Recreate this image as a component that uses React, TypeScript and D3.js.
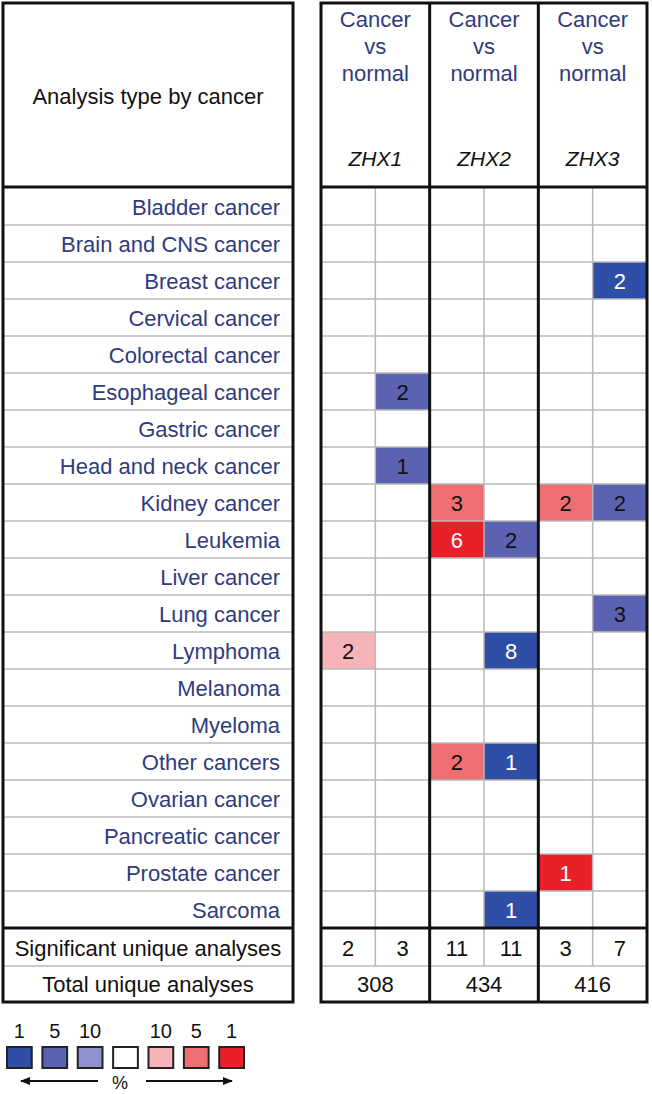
import React from "react";
import * as d3 from "d3";

const cancers = [
  "Bladder cancer",
  "Brain and CNS cancer",
  "Breast cancer",
  "Cervical cancer",
  "Colorectal cancer",
  "Esophageal cancer",
  "Gastric cancer",
  "Head and neck cancer",
  "Kidney cancer",
  "Leukemia",
  "Liver cancer",
  "Lung cancer",
  "Lymphoma",
  "Melanoma",
  "Myeloma",
  "Other cancers",
  "Ovarian cancer",
  "Pancreatic cancer",
  "Prostate cancer",
  "Sarcoma",
];
const genes = ["ZHX1", "ZHX2", "ZHX3"];
const directions = ["up", "down"];

type Cell = { cancer: string; gene: string; dir: string; count: number; level: number };
const cells: Cell[] = [
  { cancer: "Breast cancer", gene: "ZHX3", dir: "down", count: 2, level: 1 },
  { cancer: "Esophageal cancer", gene: "ZHX1", dir: "down", count: 2, level: 5 },
  { cancer: "Head and neck cancer", gene: "ZHX1", dir: "down", count: 1, level: 5 },
  { cancer: "Kidney cancer", gene: "ZHX2", dir: "up", count: 3, level: 5 },
  { cancer: "Kidney cancer", gene: "ZHX3", dir: "up", count: 2, level: 5 },
  { cancer: "Kidney cancer", gene: "ZHX3", dir: "down", count: 2, level: 5 },
  { cancer: "Leukemia", gene: "ZHX2", dir: "up", count: 6, level: 1 },
  { cancer: "Leukemia", gene: "ZHX2", dir: "down", count: 2, level: 5 },
  { cancer: "Lung cancer", gene: "ZHX3", dir: "down", count: 3, level: 5 },
  { cancer: "Lymphoma", gene: "ZHX1", dir: "up", count: 2, level: 10 },
  { cancer: "Lymphoma", gene: "ZHX2", dir: "down", count: 8, level: 1 },
  { cancer: "Other cancers", gene: "ZHX2", dir: "up", count: 2, level: 5 },
  { cancer: "Other cancers", gene: "ZHX2", dir: "down", count: 1, level: 1 },
  { cancer: "Prostate cancer", gene: "ZHX3", dir: "up", count: 1, level: 1 },
  { cancer: "Sarcoma", gene: "ZHX2", dir: "down", count: 1, level: 1 },
];

const significant = [2, 3, 11, 11, 3, 7];
const totals = [308, 434, 416];

const legendLevels = [
  { dir: "down", level: 1 },
  { dir: "down", level: 5 },
  { dir: "down", level: 10 },
  { dir: "none", level: 0 },
  { dir: "up", level: 10 },
  { dir: "up", level: 5 },
  { dir: "up", level: 1 },
];

const colorFor = (dir: string, level: number) => {
  if (dir === "down") return level === 1 ? "#2f4ea5" : level === 5 ? "#5b62b1" : "#8d92cf";
  if (dir === "up") return level === 1 ? "#e8202a" : level === 5 ? "#ef6e71" : "#f6b3b8";
  return "#ffffff";
};

const FONT = "'Liberation Sans', Arial, Helvetica, sans-serif";
const NAVY = "#2f3b7c";
const GRAY = "#b9b9b9";
const FS = 22;

export default function App() {
  const W = 652, H = 1094;
  const leftX0 = 3, leftX1 = 293;
  const gridX0 = 321, gridX1 = 647;
  const top = 3, headerBottom = 187;
  const rowsTop = 188, rowsBottom = 928;
  const sigBottom = 966, totalBottom = 1002;

  const y = d3.scaleBand<string>().domain(cancers).range([rowsTop, rowsBottom]);
  const gx = d3.scaleBand<string>().domain(genes).range([gridX0, gridX1]);
  const subKeys = genes.flatMap((g) => directions.map((d) => g + "|" + d));
  const sx = d3.scaleBand<string>().domain(subKeys).range([gridX0, gridX1]);
  const rh = y.bandwidth();
  const sw = sx.bandwidth();

  const legendX = d3.scaleBand<number>().domain(d3.range(legendLevels.length)).range([7, 244]).paddingInner(0.3);

  return (
    <svg width={W} height={H} style={{ position: "absolute", left: 0, top: 0, background: "#fff" }} fontFamily={FONT}>
      {/* colored cells */}
      {cells.map((c, i) => (
        <rect key={"c" + i} x={sx(c.gene + "|" + c.dir)} y={y(c.cancer)} width={sw} height={rh} fill={colorFor(c.dir, c.level)} />
      ))}

      {/* gray row lines left */}
      {cancers.slice(1).map((c) => (
        <line key={"lg" + c} x1={leftX0} x2={leftX1} y1={y(c)} y2={y(c)} stroke={GRAY} strokeWidth={1.5} />
      ))}
      <line x1={leftX0} x2={leftX1} y1={sigBottom} y2={sigBottom} stroke={GRAY} strokeWidth={1.5} />
      {/* gray row lines right */}
      {cancers.slice(1).map((c) => (
        <line key={"rg" + c} x1={gridX0} x2={gridX1} y1={y(c)} y2={y(c)} stroke={GRAY} strokeWidth={1.5} />
      ))}
      <line x1={gridX0} x2={gridX1} y1={sigBottom} y2={sigBottom} stroke={GRAY} strokeWidth={1.5} />
      {/* sub-column dividers */}
      {genes.map((g) => (
        <line key={"sv" + g} x1={sx(g + "|down")} x2={sx(g + "|down")} y1={rowsTop} y2={sigBottom} stroke={GRAY} strokeWidth={1.5} />
      ))}

      {/* thick borders */}
      <rect x={leftX0} y={top} width={leftX1 - leftX0} height={totalBottom - top} fill="none" stroke="#111" strokeWidth={3} />
      <line x1={leftX0} x2={leftX1} y1={headerBottom} y2={headerBottom} stroke="#111" strokeWidth={3} />
      <line x1={leftX0} x2={leftX1} y1={rowsBottom} y2={rowsBottom} stroke="#111" strokeWidth={3} />
      <rect x={gridX0} y={top} width={gridX1 - gridX0} height={totalBottom - top} fill="none" stroke="#111" strokeWidth={3} />
      <line x1={gridX0} x2={gridX1} y1={headerBottom} y2={headerBottom} stroke="#111" strokeWidth={3} />
      <line x1={gridX0} x2={gridX1} y1={rowsBottom} y2={rowsBottom} stroke="#111" strokeWidth={3} />
      {genes.slice(1).map((g) => (
        <line key={"bv" + g} x1={gx(g)} x2={gx(g)} y1={top} y2={totalBottom} stroke="#111" strokeWidth={3} />
      ))}

      {/* header texts */}
      <text x={(leftX0 + leftX1) / 2} y={104} textAnchor="middle" fontSize={FS} fill="#111">Analysis type by cancer</text>
      {genes.map((g) => {
        const cx = (gx(g) as number) + gx.bandwidth() / 2;
        return (
          <g key={"h" + g}>
            <text x={cx} y={27} textAnchor="middle" fontSize={FS} fill={NAVY}>Cancer</text>
            <text x={cx} y={54} textAnchor="middle" fontSize={FS} fill={NAVY}>vs</text>
            <text x={cx} y={81} textAnchor="middle" fontSize={FS} fill={NAVY}>normal</text>
            <text x={cx} y={166} textAnchor="middle" fontSize={21} fontStyle="italic" fill="#111">{g}</text>
          </g>
        );
      })}

      {/* cancer names */}
      {cancers.map((c) => (
        <text key={"n" + c} x={280} y={(y(c) as number) + rh / 2 + 8} textAnchor="end" fontSize={FS} fill={NAVY}>{c}</text>
      ))}

      {/* cell numbers */}
      {cells.map((c, i) => (
        <text key={"t" + i} x={(sx(c.gene + "|" + c.dir) as number) + sw / 2} y={(y(c.cancer) as number) + rh / 2 + 8}
          textAnchor="middle" fontSize={FS} fill={c.level === 1 ? "#fff" : "#111"}>{c.count}</text>
      ))}

      {/* summary rows */}
      <text x={(leftX0 + leftX1) / 2} y={956} textAnchor="middle" fontSize={FS} fill="#111">Significant unique analyses</text>
      <text x={(leftX0 + leftX1) / 2} y={992} textAnchor="middle" fontSize={FS} fill="#111">Total unique analyses</text>
      {subKeys.map((k, i) => (
        <text key={"s" + k} x={(sx(k) as number) + sw / 2} y={956} textAnchor="middle" fontSize={FS} fill="#111">{significant[i]}</text>
      ))}
      {genes.map((g, i) => (
        <text key={"tot" + g} x={(gx(g) as number) + gx.bandwidth() / 2} y={992} textAnchor="middle" fontSize={FS} fill="#111">{totals[i]}</text>
      ))}

      {/* legend */}
      {legendLevels.map((l, i) => {
        const lx = legendX(i) as number;
        const bw = legendX.bandwidth();
        return (
          <g key={"lg" + i}>
            <rect x={lx} y={1047} width={bw} height={21} fill={colorFor(l.dir, l.level)} stroke="#222" strokeWidth={2} />
            {l.level > 0 && (
              <text x={lx + bw / 2} y={1038} textAnchor="middle" fontSize={20} fill="#111">{l.level}</text>
            )}
          </g>
        );
      })}
      <defs>
        <marker id="ah" viewBox="0 0 10 10" refX={9} refY={5} markerWidth={5} markerHeight={5} orient="auto">
          <path d="M0,1 L10,5 L0,9 Z" fill="#111" />
        </marker>
      </defs>
      <line x1={98} y1={1081} x2={21} y2={1081} stroke="#111" strokeWidth={2} markerEnd="url(#ah)" />
      <line x1={146} y1={1081} x2={232} y2={1081} stroke="#111" strokeWidth={2} markerEnd="url(#ah)" />
      <text x={120} y={1089} textAnchor="middle" fontSize={18} fill="#111">%</text>
    </svg>
  );
}
